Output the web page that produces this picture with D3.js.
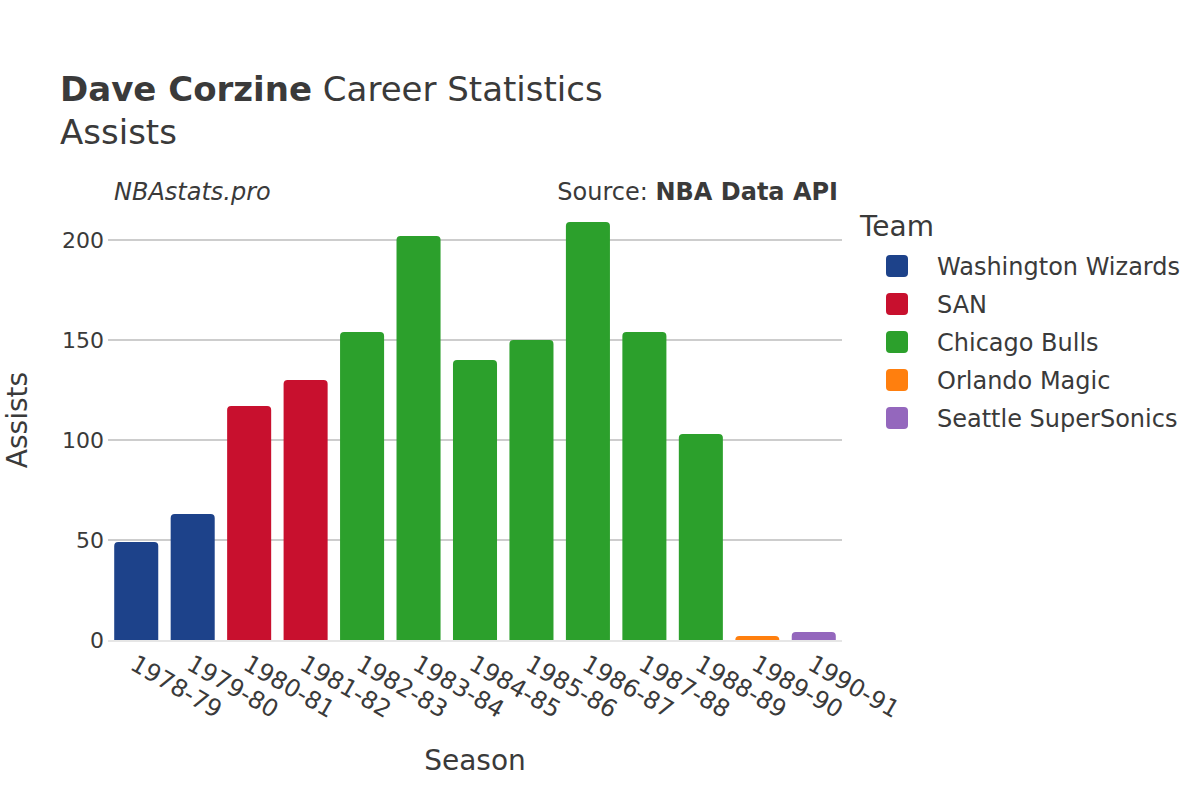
<!DOCTYPE html>
<html><head><meta charset="utf-8">
<script src="https://cdn.jsdelivr.net/npm/d3@7"></script>
<style>body{margin:0;background:#fff;} text{font-family:"DejaVu Sans",sans-serif;fill:#3a3a3a;}</style>
</head><body>
<svg id="c" width="1200" height="800"></svg>
<script>
const seasons = ["1978-79","1979-80","1980-81","1981-82","1982-83","1983-84","1984-85","1985-86","1986-87","1987-88","1988-89","1989-90","1990-91"];
const assists = [49,63,117,130,154,202,140,150,209,154,103,2,4];
const teamOfSeason = ["Washington Wizards","Washington Wizards","SAN","SAN","Chicago Bulls","Chicago Bulls","Chicago Bulls","Chicago Bulls","Chicago Bulls","Chicago Bulls","Chicago Bulls","Orlando Magic","Seattle SuperSonics"];
const teams = ["Washington Wizards","SAN","Chicago Bulls","Orlando Magic","Seattle SuperSonics"];
const teamColors = ["#1d428a","#c8102e","#2ca02c","#ff7f0e","#9467bd"];
const yTicks = [0,50,100,150,200];

const svg = d3.select("#c");
const L = 108, R = 842, T = 200, B = 640;
const x = d3.scaleBand().domain(seasons).range([L, R]).paddingInner(0.22).paddingOuter(0.11);
const y = d3.scaleLinear().domain([0, 220]).range([B, B - 440]);
const color = d3.scaleOrdinal().domain(teams).range(teamColors);

// grid
svg.append("g").selectAll("line").data(yTicks.filter(d=>d>0)).join("line")
  .attr("x1", L).attr("x2", R).attr("y1", d=>y(d)).attr("y2", d=>y(d))
  .attr("stroke", "#bdbdbd").attr("stroke-width", 1.5);

// bars with rounded top
const r = 4;
svg.append("g").selectAll("path").data(seasons).join("path")
  .attr("fill", (d,i)=>color(teamOfSeason[i]))
  .attr("d", (d,i)=>{
    const x0 = x(d), w = x.bandwidth(), y0 = y(assists[i]), h = B - y0;
    const rr = Math.min(r, h, w/2);
    return `M${x0},${B}V${y0+rr}Q${x0},${y0} ${x0+rr},${y0}H${x0+w-rr}Q${x0+w},${y0} ${x0+w},${y0+rr}V${B}Z`;
  });

// zero line
svg.append("line").attr("x1", L).attr("x2", R).attr("y1", B+1).attr("y2", B+1)
  .attr("stroke", "#e6e6e6").attr("stroke-width", 2);

// y tick labels
svg.append("g").selectAll("text").data(yTicks).join("text")
  .attr("x", L - 4).attr("y", d=>y(d)).attr("dy", "0.36em")
  .attr("text-anchor", "end").attr("font-size", 22).text(d=>d);

// x tick labels
svg.append("g").selectAll("text").data(seasons).join("text")
  .attr("transform", d=>`translate(${x(d)+x.bandwidth()/2+1},${B+14}) rotate(30)`)
  .attr("dy", "0.7em")
  .attr("text-anchor", "start").attr("font-size", 24).text(d=>d);

// titles
const t = svg.append("text").attr("x", 60).attr("y", 101).attr("font-size", 34);
t.append("tspan").attr("font-weight", "bold").text("Dave Corzine");
t.append("tspan").text(" Career Statistics");
svg.append("text").attr("x", 60).attr("y", 144).attr("font-size", 34).text("Assists");

svg.append("text").attr("x", 114).attr("y", 200).attr("font-size", 24).attr("font-style", "italic").text("NBAstats.pro");
const s = svg.append("text").attr("x", 838).attr("y", 200).attr("font-size", 24).attr("text-anchor", "end");
s.append("tspan").text("Source: ");
s.append("tspan").attr("font-weight", "bold").text("NBA Data API");

svg.append("text").attr("x", 475).attr("y", 770).attr("font-size", 28).attr("text-anchor", "middle").text("Season");
svg.append("text").attr("transform", "translate(27,420) rotate(-90)").attr("font-size", 28).attr("text-anchor", "middle").text("Assists");

// legend
svg.append("text").attr("x", 860).attr("y", 236).attr("font-size", 28).text("Team");
const lg = svg.append("g").selectAll("g").data(teams).join("g")
  .attr("transform", (d,i)=>`translate(886,${266 + i*38})`);
lg.append("rect").attr("x", 0).attr("y", -11).attr("width", 22).attr("height", 22).attr("rx", 4)
  .attr("fill", d=>color(d));
lg.append("text").attr("x", 51).attr("y", 0).attr("dy", "0.36em").attr("font-size", 24).text(d=>d);
</script>
</body></html>
